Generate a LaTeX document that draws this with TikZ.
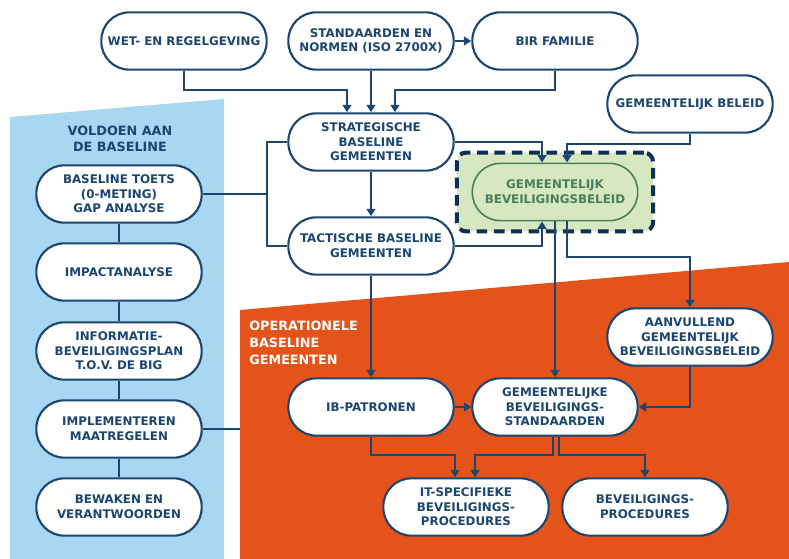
\documentclass[tikz,border=0pt]{standalone}
\usepackage{fontspec}
\setmainfont{DejaVu Sans}
\usetikzlibrary{arrows.meta,calc,fit,backgrounds}

\definecolor{navy}{HTML}{1C4670}
\definecolor{darknavy}{HTML}{0E2F55}
\definecolor{skyblue}{HTML}{A8D8F1}
\definecolor{brickorange}{HTML}{E4531A}
\definecolor{palegreen}{HTML}{D5E8C0}
\definecolor{leafgreen}{HTML}{4A7D5E}

\tikzset{
	box/.style={draw=navy, line width=1.6pt, fill=white, rounded corners=21pt,
		minimum width=124pt, minimum height=43pt, inner sep=2pt, align=center,
		text=navy, font=\fontsize{8.9}{11}\selectfont\bfseries},
	arr/.style={draw=navy, line width=1.5pt, -{Triangle[width=6.5pt,length=5.5pt]}},
	ln/.style={draw=navy, line width=1.5pt},
	heading/.style={font=\fontsize{9.6}{12.5}\selectfont\bfseries, inner sep=0pt}
}

\begin{document}
\begin{tikzpicture}[x=0.75pt,y=-0.75pt]
					\useasboundingbox (0,0) rectangle (789,559);
					
					% achtergrondvlakken
					\fill[skyblue] (10,117) -- (224,99) -- (224,559) -- (10,559) -- cycle;
					\fill[brickorange] (240,310) -- (789,262) -- (789,559) -- (240,559) -- cycle;
					
					\node[heading, text=navy, align=center] (voldoen) at (120,139) {VOLDOEN AAN\\DE BASELINE};
					\node[heading, text=white, align=left, anchor=north west] (operationeel) at (249,321) {OPERATIONELE\\BASELINE\\GEMEENTEN};
					
					% bovenste rij
					\node[box] (wet) at (184,41) {WET- EN REGELGEVING};
					\node[box] (std) at (371,41) {STANDAARDEN EN\\NORMEN (ISO 2700X)};
					\node[box] (bir) at (555,41) {BIR FAMILIE};
					\node[box] (gbel) at (690,104) {GEMEENTELIJK BELEID};
					
					% midden
					\node[box] (strat) at (371,142) {STRATEGISCHE\\BASELINE\\GEMEENTEN};
					\node[box] (tact) at (371,246) {TACTISCHE BASELINE\\GEMEENTEN};
					\node[box, fill=palegreen, draw=leafgreen, text=leafgreen, line width=1.2pt] (gbb) at (555,192) {GEMEENTELIJK\\BEVEILIGINGSBELEID};
					\begin{scope}[on background layer]
						\node[fit=(gbb), inner xsep=11pt, inner ysep=7.5pt, draw=darknavy, fill=palegreen,
							line width=3pt, dash pattern=on 8pt off 5pt, rounded corners=7pt] (kader) {};
					\end{scope}
					
					% links: voldoen aan de baseline
					\node[box] (toets) at (119,194) {BASELINE TOETS\\(0-METING)\\GAP ANALYSE};
					\node[box] (impact) at (119,272) {IMPACTANALYSE};
					\node[box] (ibplan) at (119,351) {INFORMATIE-\\BEVEILIGINGSPLAN\\T.O.V. DE BIG};
					\node[box] (impl) at (119,429) {IMPLEMENTEREN\\MAATREGELEN};
					\node[box] (bewaken) at (119,507) {BEWAKEN EN\\VERANTWOORDEN};
					
					% operationeel
					\node[box] (aanv) at (690,337) {AANVULLEND\\GEMEENTELIJK\\BEVEILIGINGSBELEID};
					\node[box] (ibpat) at (371,407) {IB-PATRONEN};
					\node[box] (gbs) at (555,407) {GEMEENTELIJKE\\BEVEILIGINGS-\\STANDAARDEN};
					\node[box] (itproc) at (466,507) {IT-SPECIFIEKE\\BEVEILIGINGS-\\PROCEDURES};
					\node[box] (bproc) at (645,507) {BEVEILIGINGS-\\PROCEDURES};
					
					\coordinate (knoop) at (267,194);
					\coordinate (rand) at (240,429);
					
					% verbindingen
					\draw[arr] (wet.south) -- ++(0,19) -| ($(strat.north)+(-24,0)$);
					\draw[arr] (std) -- (strat);
					\draw[arr] (bir.south) -- ++(0,19) -| ($(strat.north)+(24,0)$);
					\draw[arr] (std) -- (bir);
					\draw[arr] (strat.east) -| ($(gbb.north)+(-13,0)$);
					\draw[arr] (gbel.south) -- ++(0,10) -| ($(gbb.north)+(12,0)$);
					\draw[arr] (strat) -- (tact);
					\draw[arr] (tact.east) -| ($(gbb.south)+(-13,0)$);
					\draw[arr] (gbb) -- (gbs);
					\draw[arr] ($(gbb.south)+(12,0)$) -- ++(0,36) -| (aanv.north);
					\draw[arr] (aanv.south) |- (gbs.east);
					\draw[arr] (tact) -- (ibpat);
					\draw[arr] (ibpat) -- (gbs);
					\draw[arr] (ibpat.south) -- ++(0,18) -| ($(itproc.north)+(-11,0)$);
					\draw[arr] ($(gbs.south)+(-2,0)$) -- ++(0,18) -| ($(itproc.north)+(9,0)$);
					\draw[arr] ($(gbs.south)+(4,0)$) -- ++(0,18) -| (bproc.north);
					
					\draw[ln] (toets) -- (impact);
					\draw[ln] (impact) -- (ibplan);
					\draw[ln] (ibplan) -- (impl);
					\draw[ln] (impl) -- (bewaken);
					\draw[ln] (toets.east) -- (knoop);
					\draw[ln] (strat.west) -| (knoop) |- (tact.west);
					\draw[ln] (impl.east) -- (rand);
				\end{tikzpicture}
\end{document}
